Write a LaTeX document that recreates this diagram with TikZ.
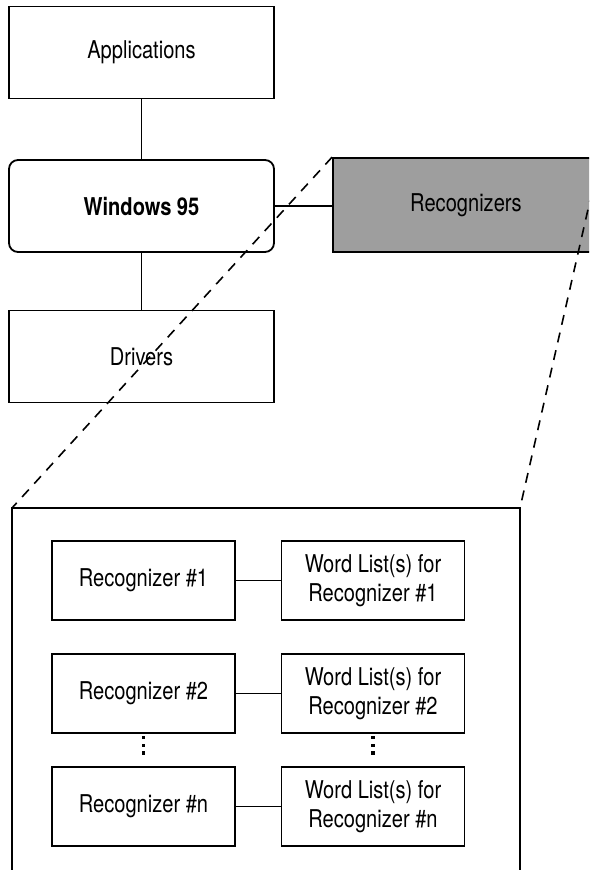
\documentclass[tikz,border=0pt]{standalone}
\usepackage{fontspec}
\setmainfont{TeX Gyre Heros}[FakeStretch=0.82]
\usetikzlibrary{positioning}

\begin{document}
\begin{tikzpicture}[x=1pt,y=-1pt,
  box/.style={draw,line width=1.8pt,minimum width=265pt,minimum height=92pt,inner sep=0pt,align=center},
  subbox/.style={draw,line width=1.8pt,minimum width=183pt,minimum height=79pt,inner sep=0pt,align=center},
  link/.style={line width=1.4pt},
  zoomline/.style={line width=1.6pt,dash pattern=on 10pt off 8pt}]
\useasboundingbox (0,0) rectangle (589,870);
\clip (0,0) rectangle (589,870);
\fontsize{24.5}{28.5}\selectfont

\node[box] (apps) at (141.5,52.5) {Applications};
\node[box,rounded corners=9pt] (win) at (141.5,206) {\bfseries Windows 95};
\node[box] (drv) at (141.5,356.5) {Drivers};
\node[box,fill=black!38,minimum width=266pt,minimum height=94pt] (rec) at (466,205) {Recognizers};

\draw[link] (apps) -- (win);
\draw[link] (win) -- (drv);
\draw[link] (win.east) -- (win.east -| rec.west);

% Expanded view
\coordinate (gtl) at (12,508);
\coordinate (gtr) at (520,508);
\draw[line width=1.8pt] (12,880) -- (gtl) -- (gtr) -- (520,880);
\draw[zoomline] (rec.north west) -- (gtl);
\draw[zoomline] (rec.north east) -- (gtr);

\node[subbox] (r1) at (143.5,580.5) {Recognizer \#1};
\node[subbox] (w1) at (373,580.5) {Word List(s) for\\Recognizer \#1};
\node[subbox] (r2) at (143.5,693.5) {Recognizer \#2};
\node[subbox] (w2) at (373,693.5) {Word List(s) for\\Recognizer \#2};
\node[subbox] (rn) at (143.5,806.5) {Recognizer \#n};
\node[subbox] (wn) at (373,806.5) {Word List(s) for\\Recognizer \#n};

\draw[link] (r1) -- (w1);
\draw[link] (r2) -- (w2);
\draw[link] (rn) -- (wn);

% dots
\foreach \d in {3.5,11.5,19} {
  \fill ([yshift=-\d pt]r2.south) ++(-1.8,-1.8) rectangle ++(3.6,3.6);
  \fill ([yshift=-\d pt]w2.south) ++(-1.8,-1.8) rectangle ++(3.6,3.6);
}
\end{tikzpicture}
\end{document}
